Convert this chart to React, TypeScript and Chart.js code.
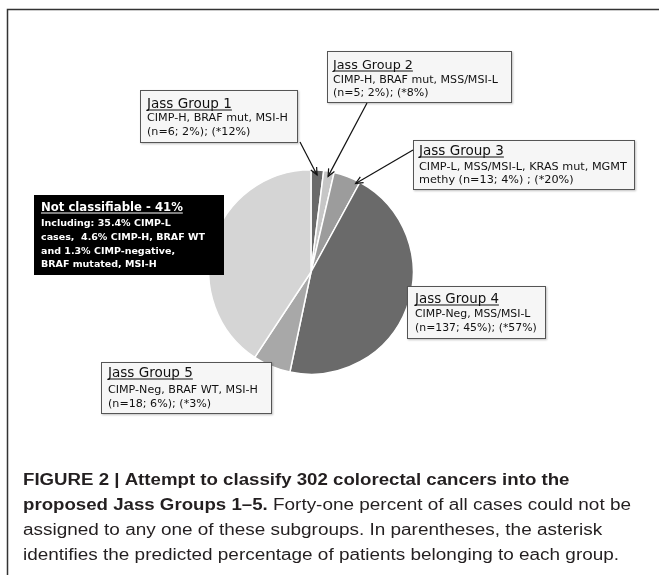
import React, { useEffect, useRef } from "react";
import { Chart, registerables } from "chart.js";
Chart.register(...registerables);

// ---------- data ----------
const categories = ["Jass Group 1", "Jass Group 2", "Jass Group 3", "Jass Group 4", "Jass Group 5", "Not classifiable"];
const caseCounts = [6, 5, 13, 137, 18, 123];
const boxTitles = ["Jass Group 1", "Jass Group 2", "Jass Group 3", "Jass Group 4", "Jass Group 5", "Not classifiable - 41%"];
const boxLines = [
  ["CIMP-H, BRAF mut, MSI-H", "(n=6; 2%); (*12%)"],
  ["CIMP-H, BRAF mut, MSS/MSI-L", "(n=5; 2%); (*8%)"],
  ["CIMP-L, MSS/MSI-L, KRAS mut, MGMT", "methy (n=13; 4%) ; (*20%)"],
  ["CIMP-Neg, MSS/MSI-L", "(n=137; 45%); (*57%)"],
  ["CIMP-Neg, BRAF WT, MSI-H", "(n=18; 6%); (*3%)"],
  ["Including: 35.4% CIMP-L", "cases,  4.6% CIMP-H, BRAF WT", "and 1.3% CIMP-negative,", "BRAF mutated, MSI-H"],
];
const captionBold1 = "FIGURE 2 | Attempt to classify 302 colorectal cancers into the";
const captionBold2 = "proposed Jass Groups 1\u20135.";
const captionRest2 = " Forty-one percent of all cases could not be";
const captionLine3 = "assigned to any one of these subgroups. In parentheses, the asterisk";
const captionLine4 = "identifies the predicted percentage of patients belonging to each group.";

// ---------- styles / layout ----------
const sliceColors = ["#6a6a6a", "#c6c6c6", "#9c9c9c", "#6a6a6a", "#a8a8a8", "#d5d5d5"];
const W = 659;
const H = 575;
const BOX_FONT = '"DejaVu Sans", sans-serif';
const CAP_FONT = '"Liberation Sans Narrow", "Liberation Sans", Arial, sans-serif';

type BoxLayout = {
  x: number; y: number; w: number; h: number; tx: number;
  tb: number; b1: number; step: number; titleW: number; bodyW: number;
  dark?: boolean; arrowFrom?: [number, number]; tipFrac?: number; tipR?: number;
};
const boxLayout: BoxLayout[] = [
  { x: 140, y: 90, w: 158, h: 53, tx: 147, tb: 18, b1: 31, step: 14, titleW: 85, bodyW: 141, arrowFrom: [300, 142], tipFrac: 0.5, tipR: 0.95 },
  { x: 327, y: 51, w: 185, h: 52, tx: 333, tb: 18, b1: 32, step: 13, titleW: 80, bodyW: 165, arrowFrom: [367, 103], tipFrac: 0.5, tipR: 0.95 },
  { x: 413, y: 140, w: 222, h: 50, tx: 419, tb: 15, b1: 30, step: 13, titleW: 85, bodyW: 208, arrowFrom: [413, 150], tipFrac: 0.88, tipR: 0.97 },
  { x: 407, y: 286, w: 139, h: 53, tx: 415, tb: 17, b1: 31, step: 14, titleW: 84, bodyW: 122 },
  { x: 101, y: 362, w: 171, h: 52, tx: 108, tb: 15, b1: 31, step: 14, titleW: 85, bodyW: 150 },
  { x: 34, y: 195, w: 190, h: 80, tx: 41, tb: 16, b1: 31, step: 13.8, titleW: 142, bodyW: 164, dark: true },
];

function longest(ctx: CanvasRenderingContext2D, lines: string[], font: (s: number) => string) {
  ctx.font = font(12);
  let best = 0;
  for (const l of lines) best = Math.max(best, ctx.measureText(l).width);
  return best;
}

function drawArrow(ctx: CanvasRenderingContext2D, x1: number, y1: number, x2: number, y2: number) {
  ctx.save();
  ctx.strokeStyle = "#111";
  ctx.lineWidth = 1.2;
  ctx.beginPath();
  ctx.moveTo(x1, y1);
  ctx.lineTo(x2, y2);
  ctx.stroke();
  const a = Math.atan2(y2 - y1, x2 - x1);
  const len = 8;
  const spread = 0.42;
  ctx.beginPath();
  ctx.moveTo(x2 - len * Math.cos(a - spread), y2 - len * Math.sin(a - spread));
  ctx.lineTo(x2, y2);
  ctx.lineTo(x2 - len * Math.cos(a + spread), y2 - len * Math.sin(a + spread));
  ctx.stroke();
  ctx.restore();
}

const annotations = {
  id: "annotations",
  beforeDraw(chart: any) {
    const ctx: CanvasRenderingContext2D = chart.ctx;
    ctx.save();
    ctx.fillStyle = "#ffffff";
    ctx.fillRect(0, 0, W, H);
    ctx.strokeStyle = "#333";
    ctx.lineWidth = 1.5;
    ctx.strokeRect(7.5, 9.5, 800, 800);
    ctx.restore();
  },
  afterDraw(chart: any) {
    const ctx: CanvasRenderingContext2D = chart.ctx;
    const meta = chart.getDatasetMeta(0);
    ctx.save();
    boxLayout.forEach((b, i) => {
      ctx.save();
      if (!b.dark) {
        ctx.shadowColor = "rgba(0,0,0,0.25)";
        ctx.shadowOffsetX = 1;
        ctx.shadowOffsetY = 1;
        ctx.shadowBlur = 2;
      }
      ctx.fillStyle = b.dark ? "#000000" : "#f6f6f6";
      ctx.fillRect(b.x, b.y, b.w, b.h);
      ctx.restore();
      ctx.strokeStyle = b.dark ? "#000" : "#555";
      ctx.lineWidth = 1;
      ctx.strokeRect(b.x + 0.5, b.y + 0.5, b.w - 1, b.h - 1);

      const color = b.dark ? "#ffffff" : "#111111";
      const weight = b.dark ? "bold " : "";
      const ff = (s: number) => `${weight}${s}px ${BOX_FONT}`;
      const tSize = (12 * b.titleW) / longest(ctx, [boxTitles[i]], ff);
      ctx.font = ff(tSize);
      ctx.fillStyle = color;
      ctx.textBaseline = "alphabetic";
      ctx.textAlign = "left";
      ctx.fillText(boxTitles[i], b.tx, b.y + b.tb);
      const tw = ctx.measureText(boxTitles[i]).width;
      ctx.strokeStyle = color;
      ctx.lineWidth = 1;
      ctx.beginPath();
      ctx.moveTo(b.tx, b.y + b.tb + 2);
      ctx.lineTo(b.tx + tw, b.y + b.tb + 2);
      ctx.stroke();
      const bSize = (12 * b.bodyW) / longest(ctx, boxLines[i], ff);
      ctx.font = ff(bSize);
      boxLines[i].forEach((line, k) => {
        ctx.fillText(line, b.tx, b.y + b.b1 + k * b.step);
      });

      if (b.arrowFrom && meta.data[i]) {
        const p = meta.data[i].getProps(["x", "y", "startAngle", "endAngle", "outerRadius"], true);
        const ang = p.startAngle + (b.tipFrac ?? 0.5) * (p.endAngle - p.startAngle);
        const r = p.outerRadius * (b.tipR ?? 0.95);
        drawArrow(ctx, b.arrowFrom[0], b.arrowFrom[1], p.x + Math.cos(ang) * r, p.y + Math.sin(ang) * r);
      }
    });

    // caption
    const capSize = 16;
    const capX = 23;
    const regFont = `${capSize}px ${CAP_FONT}`;
    const boldFont = `bold ${capSize}px ${CAP_FONT}`;
    ctx.font = regFont;
    const sxReg = 337 / ctx.measureText("identifies the predicted percentage of pa").width;
    ctx.font = boldFont;
    const sxBold = 337 / ctx.measureText("FIGURE 2 | Attempt to classify 302 col").width;
    ctx.fillStyle = "#231f20";
    const drawCap = (parts: [string, boolean][], y: number) => {
      let x = capX;
      for (const [t, bold] of parts) {
        const sx = bold ? sxBold : sxReg;
        ctx.save();
        ctx.font = bold ? boldFont : regFont;
        ctx.translate(x, y);
        ctx.scale(sx, 1);
        ctx.fillText(t, 0, 0);
        const w = ctx.measureText(t).width * sx;
        ctx.restore();
        x += w;
      }
    };
    drawCap([[captionBold1, true]], 485);
    drawCap([[captionBold2, true], [captionRest2, false]], 510);
    drawCap([[captionLine3, false]], 535);
    drawCap([[captionLine4, false]], 560);
    ctx.restore();
  },
};

export default function App() {
  const ref = useRef<HTMLCanvasElement>(null);
  useEffect(() => {
    if (!ref.current) return;
    const chart = new Chart(ref.current, {
      type: "pie",
      data: {
        labels: categories,
        datasets: [
          {
            data: caseCounts,
            backgroundColor: sliceColors,
            borderColor: "#ffffff",
            borderWidth: 1.5,
          },
        ],
      },
      options: {
        animation: false,
        responsive: false,
        maintainAspectRatio: false,
        devicePixelRatio: 1,
        layout: { padding: { left: 208, right: 245, top: 169, bottom: 200 } },
        plugins: {
          legend: { display: false },
          tooltip: { enabled: false },
          title: { display: false },
        },
      },
      plugins: [annotations],
    });
    return () => chart.destroy();
  }, []);
  return (
    <div style={{ position: "absolute", left: 0, top: 0, width: W, height: H, background: "#fff" }}>
      <canvas ref={ref} width={W} height={H} style={{ width: W, height: H, display: "block" }} />
    </div>
  );
}
